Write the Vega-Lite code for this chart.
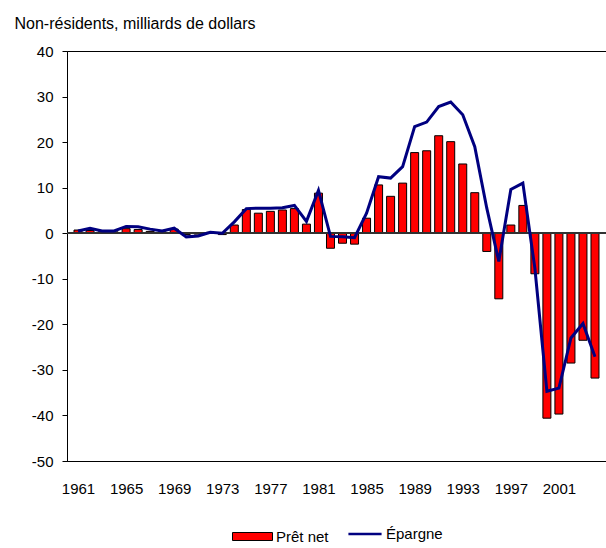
{
  "$schema": "https://vega.github.io/schema/vega-lite/v6.json",
  "width": 539,
  "height": 410,
  "autosize": {"type": "none"},
  "padding": {"left": 67, "top": 51, "right": 0, "bottom": 87},
  "background": "white",
  "view": {"stroke": "black", "strokeWidth": 1},
  "config": {
    "font": "Liberation Sans",
    "axisY": {
      "grid": false, "domainColor": "black", "tickColor": "black", "tickSize": 5,
      "labelPadding": 9, "labelFont": "Liberation Sans", "labelFontSize": 15, "labelColor": "black",
      "titleAngle": 0, "titleAlign": "left", "titleBaseline": "alphabetic", "titleX": -53, "titleY": -23,
      "titleFont": "Liberation Sans", "titleFontSize": 16, "titleFontWeight": "normal", "titleColor": "black"
    },
    "axisX": {
      "grid": false, "ticks": false, "domainColor": "black", "labelPadding": 20,
      "labelFont": "Liberation Sans", "labelFontSize": 15, "labelColor": "black",
      "labelFlush": false, "labelOverlap": false
    },
    "legend": {
      "orient": "none", "title": null, "labelFont": "Liberation Sans", "labelFontSize": 15,
      "labelColor": "black", "labelOffset": 3
    }
  },
  "data": {
    "values": [
      {"year": 1961, "pret": 0.7, "epargne": 0.5},
      {"year": 1962, "pret": 0.6, "epargne": 1.1},
      {"year": 1963, "pret": 0.3, "epargne": 0.5},
      {"year": 1964, "pret": 0.3, "epargne": 0.5},
      {"year": 1965, "pret": 1.0, "epargne": 1.5},
      {"year": 1966, "pret": 0.8, "epargne": 1.4},
      {"year": 1967, "pret": 0.4, "epargne": 0.9},
      {"year": 1968, "pret": 0.3, "epargne": 0.5},
      {"year": 1969, "pret": 0.9, "epargne": 1.1},
      {"year": 1970, "pret": -0.3, "epargne": -0.8},
      {"year": 1971, "pret": -0.2, "epargne": -0.6},
      {"year": 1972, "pret": 0.2, "epargne": 0.2},
      {"year": 1973, "pret": -0.3, "epargne": 0.0},
      {"year": 1974, "pret": 1.8, "epargne": 2.5},
      {"year": 1975, "pret": 5.2, "epargne": 5.4},
      {"year": 1976, "pret": 4.4, "epargne": 5.5},
      {"year": 1977, "pret": 4.8, "epargne": 5.5},
      {"year": 1978, "pret": 5.1, "epargne": 5.6},
      {"year": 1979, "pret": 5.4, "epargne": 6.1},
      {"year": 1980, "pret": 2.0, "epargne": 2.6},
      {"year": 1981, "pret": 8.8, "epargne": 9.4},
      {"year": 1982, "pret": -3.3, "epargne": -0.7},
      {"year": 1983, "pret": -2.2, "epargne": -0.8},
      {"year": 1984, "pret": -2.4, "epargne": -1.0},
      {"year": 1985, "pret": 3.3, "epargne": 4.4},
      {"year": 1986, "pret": 10.6, "epargne": 12.4},
      {"year": 1987, "pret": 8.1, "epargne": 12.1},
      {"year": 1988, "pret": 11.0, "epargne": 14.6},
      {"year": 1989, "pret": 17.7, "epargne": 23.4},
      {"year": 1990, "pret": 18.1, "epargne": 24.4},
      {"year": 1991, "pret": 21.4, "epargne": 27.8},
      {"year": 1992, "pret": 20.1, "epargne": 28.8},
      {"year": 1993, "pret": 15.2, "epargne": 26.0},
      {"year": 1994, "pret": 8.9, "epargne": 19.0},
      {"year": 1995, "pret": -4.0, "epargne": 5.5},
      {"year": 1996, "pret": -14.4, "epargne": -6.2},
      {"year": 1997, "pret": 1.8, "epargne": 9.6},
      {"year": 1998, "pret": 6.1, "epargne": 11.0},
      {"year": 1999, "pret": -8.9, "epargne": -7.7},
      {"year": 2000, "pret": -40.6, "epargne": -34.7},
      {"year": 2001, "pret": -39.7, "epargne": -34.0},
      {"year": 2002, "pret": -28.5, "epargne": -23.0},
      {"year": 2003, "pret": -23.5, "epargne": -19.8},
      {"year": 2004, "pret": -31.8, "epargne": -27.1}
    ]
  },
  "layer": [
    {
      "mark": {"type": "bar", "size": 8, "stroke": "black", "strokeWidth": 1},
      "encoding": {
        "x": {
          "field": "year", "type": "quantitative",
          "scale": {"domain": [1960.5, 2004.5], "nice": false, "zero": false},
          "title": null,
          "axis": {"values": [1961, 1965, 1969, 1973, 1977, 1981, 1985, 1989, 1993, 1997, 2001], "format": "d"}
        },
        "y": {
          "field": "pret", "type": "quantitative",
          "scale": {"domain": [-50, 40], "nice": false},
          "title": "Non-résidents, milliards de dollars",
          "axis": {
            "values": [-50, -40, -30, -20, -10, 0, 10, 20, 30, 40],
            "labelExpr": "datum.value < 0 ? '-' + abs(datum.value) : '' + datum.value"
          }
        },
        "fill": {
          "datum": "Prêt net", "type": "nominal",
          "scale": {"range": ["#ff0000"]},
          "legend": {"legendX": 165, "legendY": 465, "symbolType": "M-1,-0.2L1,-0.2L1,0.2L-1,0.2Z", "symbolSize": 1600, "symbolStrokeColor": "black", "symbolStrokeWidth": 1, "symbolFillColor": "#ff0000"}
        }
      }
    },
    {
      "mark": {"type": "rule", "color": "#333333", "strokeWidth": 1},
      "encoding": {"y": {"datum": 0, "type": "quantitative"}}
    },
    {
      "mark": {"type": "line", "strokeWidth": 3},
      "encoding": {
        "x": {"field": "year", "type": "quantitative", "title": null},
        "y": {"field": "epargne", "type": "quantitative", "title": "Non-résidents, milliards de dollars"},
        "stroke": {
          "datum": "Épargne", "type": "nominal",
          "scale": {"range": ["#000080"]},
          "legend": {"legendX": 280, "legendY": 465, "symbolType": "stroke", "symbolSize": 1100, "symbolStrokeWidth": 2.5}
        }
      }
    }
  ]
}
